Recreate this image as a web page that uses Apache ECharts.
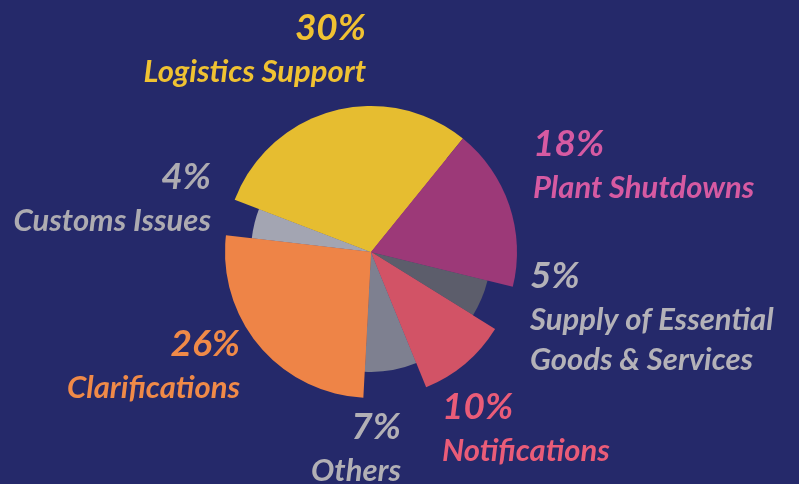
<!DOCTYPE html>
<html>
<head>
<meta charset="utf-8">
<script src="https://cdn.jsdelivr.net/npm/echarts@6/dist/echarts.min.js"></script>
<style>
html,body{margin:0;padding:0;background:#25296a;}
#c{width:799px;height:484px;}
</style>
</head>
<body>
<div id="c"></div>
<script>
// Data
const categories = ['Logistics Support','Plant Shutdowns','Supply of Essential\nGoods & Services','Notifications','Others','Clarifications','Customs Issues'];
const values = [30, 18, 5, 10, 7, 26, 4];
const emphasized = [true, true, false, true, false, true, false];
const sliceColors = ['#e6bd30','#9c3978','#5c5d6b','#d25366','#7e8090','#ee8447','#a3a5b2'];
const labelColors = ['#f0c232','#d65aa2','#b4b2b8','#ea5c78','#b2b0b5','#f08a48','#adabb1'];

// label anchor layout [x, y, align]
const labelPos = [
  [366, 5, 'right'],
  [533, 121, 'left'],
  [530, 253, 'left'],
  [442, 384, 'left'],
  [401, 404, 'right'],
  [240, 321, 'right'],
  [211, 154, 'right']
];

const chart = echarts.init(document.getElementById('c'));
const font = 'Lato, "Open Sans", sans-serif';

const baseData = categories.map((n, i) => ({ name: n, value: values[i], itemStyle: { color: sliceColors[i] } }));
const outerData = categories.map((n, i) => ({
  name: n, value: values[i],
  itemStyle: { color: emphasized[i] ? sliceColors[i] : 'rgba(0,0,0,0)' },
  label: { color: labelColors[i] }
}));

chart.setOption({
  backgroundColor: '#25296a',
  animation: false,
  series: [
    {
      type: 'pie', center: [371, 252], radius: [0, 120], startAngle: 159, clockwise: true,
      silent: true, label: { show: false }, labelLine: { show: false },
      itemStyle: { borderWidth: 0 },
      data: baseData
    },
    {
      type: 'pie', center: [371, 252], radius: [0, 146], startAngle: 159, clockwise: true,
      silent: true, avoidLabelOverlap: false,
      itemStyle: { borderWidth: 0 },
      labelLine: { show: false },
      label: {
        show: true, position: 'outside',
        formatter: '{p|{c}%}\n{n|{b}}',
        fontFamily: font, fontStyle: 'italic', fontWeight: 'bold',
        rich: {
          p: { fontFamily: font, fontStyle: 'italic', fontWeight: 'bold', fontSize: 37, lineHeight: 47 },
          n: { fontFamily: font, fontStyle: 'italic', fontWeight: 'bold', fontSize: 31, lineHeight: 40 }
        }
      },
      labelLayout: function (params) {
        const p = labelPos[params.dataIndex];
        return { x: p[0], y: p[1], align: p[2], verticalAlign: 'top', hideOverlap: false, moveOverlap: false };
      },
      data: outerData
    }
  ]
});
</script>
</body>
</html>
